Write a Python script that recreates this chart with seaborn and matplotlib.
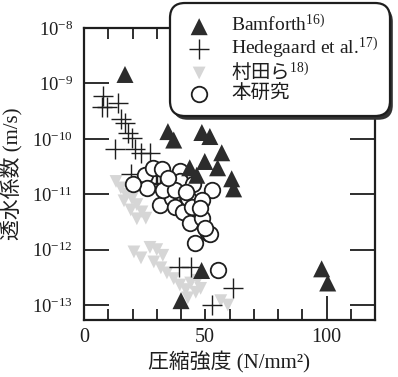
import numpy as np
import pandas as pd
import matplotlib
matplotlib.use("Agg")
import matplotlib.pyplot as plt
import seaborn as sns
from matplotlib.patches import FancyBboxPatch
from matplotlib.transforms import IdentityTransform
from matplotlib.ticker import FixedLocator, FixedFormatter, NullFormatter

# Compressive strength (N/mm^2) and water permeability coefficient (m/s)
bamforth_strength = [16.9, 34.6, 37.0, 48.6, 51.9, 56.8, 49.8, 55.1, 43.6, 46.5,
                     60.9, 61.7, 98.0, 100.5, 48.5, 40.0]
bamforth_perm = [1.45e-9, 1.35e-10, 9.5e-11, 1.3e-10, 1.1e-10, 5.6e-11, 3.9e-11,
                 3.0e-11, 3.0e-11, 2.2e-11, 1.9e-11, 1.25e-11, 4.5e-13, 2.5e-13,
                 4.2e-13, 1.2e-13]

hedegaard_strength = [7.8, 7.4, 9.5, 14.0, 15.2, 16.9, 18.1, 19.8, 12.8, 21.0,
                      23.5, 27.2, 19.3, 29.6, 30.0, 31.3, 39.1, 44.0, 61.3, 52.7]
hedegaard_perm = [6.0e-10, 3.8e-10, 3.7e-10, 4.4e-10, 2.3e-10, 1.95e-10, 1.3e-10,
                  1.05e-10, 6.5e-11, 6.5e-11, 5.6e-11, 5.6e-11, 2.3e-11, 2.3e-11,
                  1.6e-11, 1.5e-11, 4.9e-13, 4.9e-13, 2.0e-13, 1.0e-13]

murata_strength = [13.2, 15.2, 17.3, 19.8, 21.8, 19.3, 23.9, 25.5, 21.8, 16.5,
                   20.6, 23.5, 27.2, 30.0, 32.5, 28.8, 31.7, 34.2, 37.0, 39.5,
                   42.0, 44.0, 46.1, 48.1, 42.8, 56.4, 59.3, 46.9]
murata_perm = [1.7e-11, 1.3e-11, 1.0e-11, 8.3e-12, 6.5e-12, 5.2e-12, 4.8e-12,
               3.7e-12, 3.6e-12, 7.6e-12,
               9.1e-13, 7.1e-13, 1.1e-12, 1.0e-12, 7.9e-13, 6.0e-13, 4.7e-13,
               3.8e-13, 3.0e-13, 2.3e-13, 1.9e-13, 2.5e-13, 1.7e-13, 2.0e-13,
               1.35e-13, 1.2e-13, 1.0e-13, 2.8e-13]

study_strength = [25.1, 28.4, 32.1, 25.9, 20.2, 31.3, 36.2, 37.4, 39.5, 39.5,
                  44.9, 52.7, 32.5, 37.4, 40.7, 42.8, 44.4, 48.6, 43.6, 48.6,
                  51.0, 45.7, 51.9, 55.1, 34.6, 47.7, 49.8, 42.0]
study_perm = [2.2e-11, 3.0e-11, 2.8e-11, 1.3e-11, 1.5e-11, 6.5e-12, 8.7e-12,
              5.9e-12, 2.6e-11, 1.7e-11, 1.5e-11, 1.2e-11, 1.2e-11, 1.2e-11,
              4.7e-12, 8.7e-12, 5.9e-12, 7.9e-12, 3.0e-12, 3.7e-12, 2.0e-12,
              1.3e-12, 1.9e-12, 4.3e-13, 2.0e-11, 5.6e-12, 2.5e-12, 1.1e-11]

series_labels = ["Bamforth$^{\\mathrm{16)}}$", "Hedegaard et al.$^{\\mathrm{17)}}$",
                 "村田ら$^{\\mathrm{18)}}$", "本研究"]
x_label = "圧縮強度 (N/mm²)"
y_label = "透水係数 (m/s)"
y_tick_values = [1e-13, 1e-12, 1e-11, 1e-10, 1e-9, 1e-8]
y_tick_labels = ["$\\mathrm{10^{-13}}$", "$\\mathrm{10^{-12}}$", "$\\mathrm{10^{-11}}$",
                 "$\\mathrm{10^{-10}}$", "$\\mathrm{10^{-9}}$", "$\\mathrm{10^{-8}}$"]
x_tick_values = [0, 50, 100]
x_tick_labels = ["0", "50", "100"]

sns.set_style("ticks")
plt.rcParams["mathtext.fontset"] = "custom"
plt.rcParams["mathtext.rm"] = "Liberation Serif"
plt.rcParams["mathtext.it"] = "Liberation Serif:italic"
plt.rcParams["mathtext.bf"] = "Liberation Serif:bold"
plt.rcParams["font.family"] = ["Liberation Serif", "Noto Sans CJK JP"]

ink = "#1e1e1e"

fig = plt.figure(figsize=(3.98, 3.77), dpi=100)
ax = fig.add_axes([84 / 398, 1 - 320 / 377, (375 - 84) / 398, (320 - 28) / 377])
ax.set_yscale("log")

df_m = pd.DataFrame({"x": murata_strength, "y": murata_perm})
df_h = pd.DataFrame({"x": hedegaard_strength, "y": hedegaard_perm})
df_s = pd.DataFrame({"x": study_strength, "y": study_perm})
df_b = pd.DataFrame({"x": bamforth_strength, "y": bamforth_perm})

sns.scatterplot(data=df_m, x="x", y="y", ax=ax, marker="v", s=85, color="#d6d6d6",
                edgecolor="none", linewidth=0, label=series_labels[2], zorder=2)
sns.scatterplot(data=df_h, x="x", y="y", ax=ax, marker="+", s=200, color=ink,
                linewidth=1.0, label=series_labels[1], zorder=3)
sns.scatterplot(data=df_s, x="x", y="y", ax=ax, marker="o", s=125, facecolor="white",
                edgecolor=ink, linewidth=1.3, label=series_labels[3], zorder=4)
sns.scatterplot(data=df_b, x="x", y="y", ax=ax, marker="^", s=150, color="#2c2c2c",
                edgecolor="none", linewidth=0, label=series_labels[0], zorder=5)

ax.set_xlim(0, 120)
ax.set_ylim(10 ** -13.27, 1e-8)

ax.xaxis.set_major_locator(FixedLocator(x_tick_values))
ax.xaxis.set_major_formatter(FixedFormatter(x_tick_labels))
ax.xaxis.set_minor_locator(FixedLocator(list(range(10, 120, 10))))
ax.xaxis.set_minor_formatter(NullFormatter())
ax.yaxis.set_major_locator(FixedLocator(y_tick_values))
ax.yaxis.set_major_formatter(FixedFormatter(y_tick_labels))
ax.yaxis.set_minor_locator(FixedLocator([]))

ax.tick_params(axis="both", which="both", direction="in", top=True, right=True,
               color=ink, width=1.3, labelcolor=ink)
ax.tick_params(axis="x", which="both", length=8, labelsize=14.5, pad=6)
ax.tick_params(axis="y", which="major", length=18, labelsize=13.5, pad=8)
ax.xaxis.get_major_ticks()[2].tick1line.set_markersize(17)

for side in ax.spines.values():
    side.set_linewidth(1.6)
    side.set_color(ink)

ax.set_xlabel(x_label, fontsize=15, color=ink, labelpad=3)
ax.set_ylabel(y_label, fontsize=15, color=ink, labelpad=6)

handles, labels = ax.get_legend_handles_labels()
if ax.get_legend():
    ax.get_legend().remove()
order = [labels.index(l) for l in series_labels]
leg = fig.legend([handles[i] for i in order], [labels[i] for i in order],
                 loc="upper left", bbox_to_anchor=(170 / 398, 1 - 3 / 377),
                 bbox_transform=fig.transFigure, frameon=True, fancybox=True,
                 shadow=False, fontsize=14, labelspacing=0.0, handlelength=1.8,
                 handletextpad=0.75, borderpad=0.6, borderaxespad=0,
                 framealpha=1)
frame = leg.get_frame()
frame.set_edgecolor(ink)
frame.set_linewidth(1.6)
frame.set_boxstyle("round", pad=0, rounding_size=0.75)
leg.set_zorder(10)
for t in leg.get_texts():
    t.set_color(ink)
leg.get_texts()[2].set_fontfamily("Noto Sans CJK JP")
leg.get_texts()[3].set_fontfamily(["Noto Sans CJK JP"])

# drop shadow under the legend box
fig.canvas.draw()
bb = frame.get_window_extent()
radius = 0.75 * leg.prop.get_size_in_points() * fig.dpi / 72
shadow = FancyBboxPatch((bb.x0 + 3, bb.y0 - 4), bb.width, bb.height,
                        boxstyle=f"round,pad=0,rounding_size={radius}",
                        transform=IdentityTransform(), facecolor="#333333",
                        edgecolor="none", zorder=9)
fig.patches.append(shadow)
shadow.set_figure(fig)

fig.savefig("out.png", dpi=100)
